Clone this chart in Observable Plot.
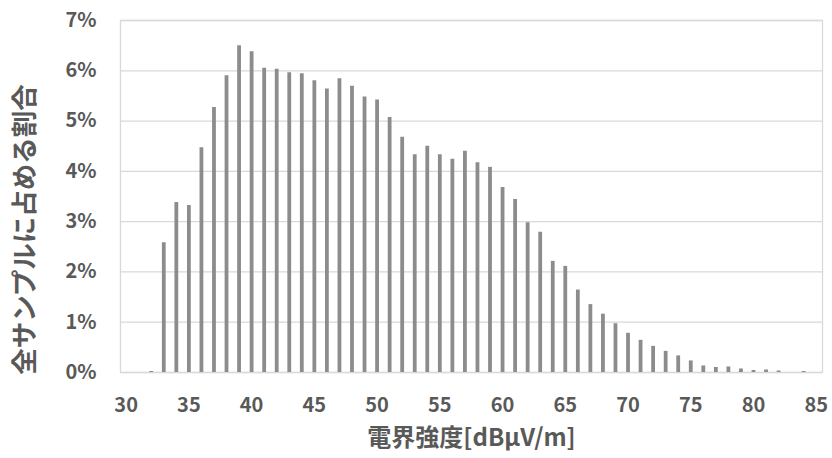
<!DOCTYPE html>
<html>
<head>
<meta charset="utf-8">
<script src="https://cdn.jsdelivr.net/npm/d3@7"></script>
<script src="https://cdn.jsdelivr.net/npm/@observablehq/plot@0.6"></script>
<style>
  html, body { margin: 0; padding: 0; background: #fff; }
  #chart { width: 832px; height: 458px; }
</style>
</head>
<body>
<div id="chart"></div>
<script>
const fieldStrength = [32,33,34,35,36,37,38,39,40,41,42,43,44,45,46,47,48,49,50,51,52,53,54,55,56,57,58,59,60,61,62,63,64,65,66,67,68,69,70,71,72,73,74,75,76,77,78,79,80,81,82,83,84];
const sharePercent = [0.02,2.58,3.38,3.32,4.47,5.27,5.90,6.50,6.38,6.05,6.03,5.96,5.94,5.80,5.64,5.84,5.69,5.48,5.42,5.07,4.68,4.33,4.50,4.33,4.24,4.40,4.17,4.08,3.68,3.44,2.98,2.79,2.21,2.11,1.64,1.35,1.16,0.97,0.78,0.64,0.52,0.42,0.33,0.23,0.13,0.10,0.11,0.07,0.04,0.05,0.03,0.00,0.02];
const xTicks = [30,35,40,45,50,55,60,65,70,75,80,85];
const yTicks = [0,1,2,3,4,5,6,7];
const xTitle = "電界強度[dBμV/m]";
const yTitle = "全サンプルに占める割合";

const data = fieldStrength.map((x, i) => ({x, v: sharePercent[i]}));
const textColor = "#595959";
const gridColor = "#d9d9d9";
const fontFamily = "'Noto Sans CJK JP', 'Noto Sans', sans-serif";

const chart = Plot.plot({
  width: 832,
  height: 458,
  marginLeft: 120,
  marginRight: 10,
  marginTop: 20,
  marginBottom: 86,
  style: {fontFamily, color: textColor, background: "#fff"},
  x: {domain: [29.55, 85.5], ticks: xTicks},
  y: {domain: [0, 7], ticks: yTicks},
  marks: [
    Plot.ruleY(yTicks, {stroke: gridColor, strokeWidth: 1.3}),
    Plot.frame({stroke: gridColor, strokeWidth: 1.3}),
    Plot.ruleX(data, {x: "x", y1: 0, y2: "v", stroke: "#8c8c8c", strokeWidth: 3.8}),
    Plot.axisX(xTicks, {tickSize: 0, tickPadding: 25, fontSize: 20, fontWeight: "bold", fill: textColor, label: null}),
    Plot.axisY(yTicks, {tickSize: 0, tickPadding: 24, fontSize: 20, fontWeight: "bold", fill: textColor, tickFormat: d => d + "%", label: null}),
    Plot.text([xTitle], {frameAnchor: "bottom", dy: 66, fontSize: 24, fontWeight: "bold", fill: textColor, lineAnchor: "middle"}),
    Plot.text([yTitle], {frameAnchor: "left", textAnchor: "middle", rotate: -90, dx: -95, dy: 33, fontSize: 26.5, fontWeight: "bold", fill: textColor, lineAnchor: "middle"})
  ]
});
document.getElementById("chart").appendChild(chart);
</script>
</body>
</html>
